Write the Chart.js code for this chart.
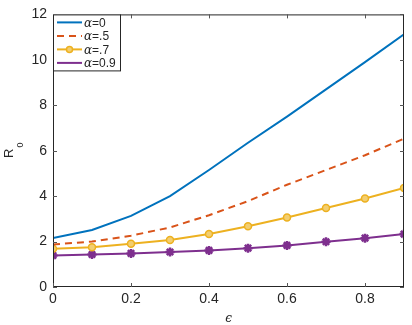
<!DOCTYPE html>
<html>
<head>
<meta charset="utf-8">
<script src="https://cdn.jsdelivr.net/npm/chart.js@4"></script>
<style>
  html, body { margin: 0; padding: 0; background: #fff; }
  #wrap { width: 412px; height: 325px; }
</style>
</head>
<body>
<div id="wrap"><canvas id="chart" width="412" height="325"></canvas></div>
<script>
// valores
var eps = [0, 0.1, 0.2, 0.3, 0.4, 0.5, 0.6, 0.7, 0.8, 0.9];
var alfa0 = [2.16, 2.51, 3.13, 4.0, 5.15, 6.35, 7.5, 8.7, 9.9, 11.12];
var alfa05 = [1.87, 2.0, 2.26, 2.62, 3.16, 3.78, 4.5, 5.15, 5.8, 6.53];
var alfa07 = [1.68, 1.75, 1.9, 2.07, 2.33, 2.67, 3.06, 3.48, 3.9, 4.36];
var alfa09 = [1.39, 1.43, 1.48, 1.54, 1.61, 1.71, 1.83, 1.99, 2.15, 2.33];
var nombres = ["α=0", "α=.5", "α=.7", "α=0.9"];
var xTicks = [0, 0.2, 0.4, 0.6, 0.8];
var yTicks = [0, 2, 4, 6, 8, 10, 12];

var colores = ["#0072BD", "#D95319", "#EDB120", "#7E2F8E"];
var ejeColor = "#262626";

function puntos(ys) {
    return ys.map(function (y, i) { return { x: eps[i], y: y }; });
}

var datasets = [
    { label: nombres[0], data: puntos(alfa0), borderColor: colores[0], borderWidth: 2, pointRadius: 0 },
    { label: nombres[1], data: puntos(alfa05), borderColor: colores[1], borderWidth: 2, borderDash: [7, 5], pointRadius: 0 },
    { label: nombres[2], data: puntos(alfa07), borderColor: colores[2], borderWidth: 2, pointRadius: 3.5,
      pointBorderWidth: 1.5, pointBackgroundColor: "#F3CE70", pointStyle: "circle" },
    { label: nombres[3], data: puntos(alfa09), borderColor: colores[3], borderWidth: 2, pointRadius: 4.5,
      pointBorderWidth: 2.5, pointBackgroundColor: colores[3], pointStyle: "star" }
];

// marco, ticks internos, leyenda y titulos al estilo MATLAB
var estiloMatlab = {
    id: "estiloMatlab",
    afterDraw: function (chart) {
        var c = chart.ctx, a = chart.chartArea;
        var sx = chart.scales.x, sy = chart.scales.y;
        c.save();
        c.strokeStyle = ejeColor;
        c.lineWidth = 1;
        c.strokeRect(a.left + 0.5, a.top + 0.5, a.right - a.left - 1, a.bottom - a.top - 1);
        c.strokeStyle = "#555";
        c.beginPath();
        xTicks.forEach(function (v) {
            var px = Math.round(sx.getPixelForValue(v)) + 0.5;
            c.moveTo(px, a.bottom); c.lineTo(px, a.bottom - 4);
            c.moveTo(px, a.top); c.lineTo(px, a.top + 4);
        });
        yTicks.forEach(function (v) {
            var py = Math.round(sy.getPixelForValue(v)) + 0.5;
            c.moveTo(a.left, py); c.lineTo(a.left + 4, py);
            c.moveTo(a.right, py); c.lineTo(a.right - 4, py);
        });
        c.stroke();

        // leyenda
        var lx = a.left, ly = a.top, lw = 67, lh = 56;
        c.fillStyle = "#fff";
        c.fillRect(lx, ly, lw, lh);
        c.strokeStyle = ejeColor;
        c.strokeRect(lx + 0.5, ly + 0.5, lw, lh);
        chart.data.datasets.forEach(function (ds, i) {
            var y = ly + 8 + i * 13.5;
            c.strokeStyle = ds.borderColor;
            c.lineWidth = 2;
            c.setLineDash(ds.borderDash || []);
            c.beginPath(); c.moveTo(lx + 4, y); c.lineTo(lx + 29, y); c.stroke();
            c.setLineDash([]);
            if (ds.pointRadius > 0) {
                c.fillStyle = ds.pointBackgroundColor;
                c.lineWidth = ds.pointBorderWidth;
                c.beginPath();
                if (ds.pointStyle === "circle") {
                    c.arc(lx + 16.5, y, ds.pointRadius - 0.5, 0, Math.PI * 2);
                    c.fill(); c.stroke();
                } else {
                    Chart.helpers.drawPoint(c, { pointStyle: "star", radius: ds.pointRadius - 0.5, rotation: 0 }, lx + 16.5, y);
                }
            }
            c.fillStyle = ejeColor;
            c.textBaseline = "middle";
            c.font = "italic 12px 'DejaVu Serif'";
            c.fillText("α", lx + 31, y + 1);
            var w = c.measureText("α").width;
            c.font = "12px 'Liberation Sans'";
            c.fillText(ds.label.slice(1), lx + 31 + w, y + 1);
        });

        // titulos de ejes
        c.fillStyle = ejeColor;
        c.textBaseline = "alphabetic";
        c.save();
        c.translate(13, 158);
        c.rotate(-Math.PI / 2);
        c.font = "13px 'Liberation Sans'";
        c.textAlign = "left";
        var wr = c.measureText("R").width;
        c.fillText("R", 0, 0);
        c.font = "9px 'Liberation Sans'";
        c.fillText("0", wr + 1, 10);
        c.restore();
        c.font = "italic 12px 'DejaVu Serif'";
        c.textAlign = "center";
        c.fillText("ϵ", (a.left + a.right) / 2, 322);
        c.restore();
    }
};

new Chart(document.getElementById("chart").getContext("2d"), {
    type: "line",
    data: { datasets: datasets },
    options: {
        responsive: false,
        animation: false,
        layout: { padding: { top: 11, right: 8, left: 0, bottom: 0 } },
        plugins: { legend: { display: false }, tooltip: { enabled: false } },
        scales: {
            x: {
                type: "linear", min: 0, max: 0.9,
                grid: { display: false, drawTicks: false },
                border: { display: false },
                afterBuildTicks: function (s) { s.ticks = xTicks.map(function (v) { return { value: v }; }); },
                afterFit: function (s) { s.height = 38; },
                ticks: { padding: 4, color: ejeColor, font: { family: "Liberation Sans", size: 14 },
                         maxRotation: 0, callback: function (v) { return String(v); } }
            },
            y: {
                min: 0, max: 12,
                grid: { display: false, drawTicks: false },
                border: { display: false },
                afterBuildTicks: function (s) { s.ticks = yTicks.map(function (v) { return { value: v }; }); },
                afterFit: function (s) { s.width = 53; },
                ticks: { padding: 6, color: ejeColor, font: { family: "Liberation Sans", size: 14 } }
            }
        }
    },
    plugins: [estiloMatlab]
});
</script>
</body>
</html>
